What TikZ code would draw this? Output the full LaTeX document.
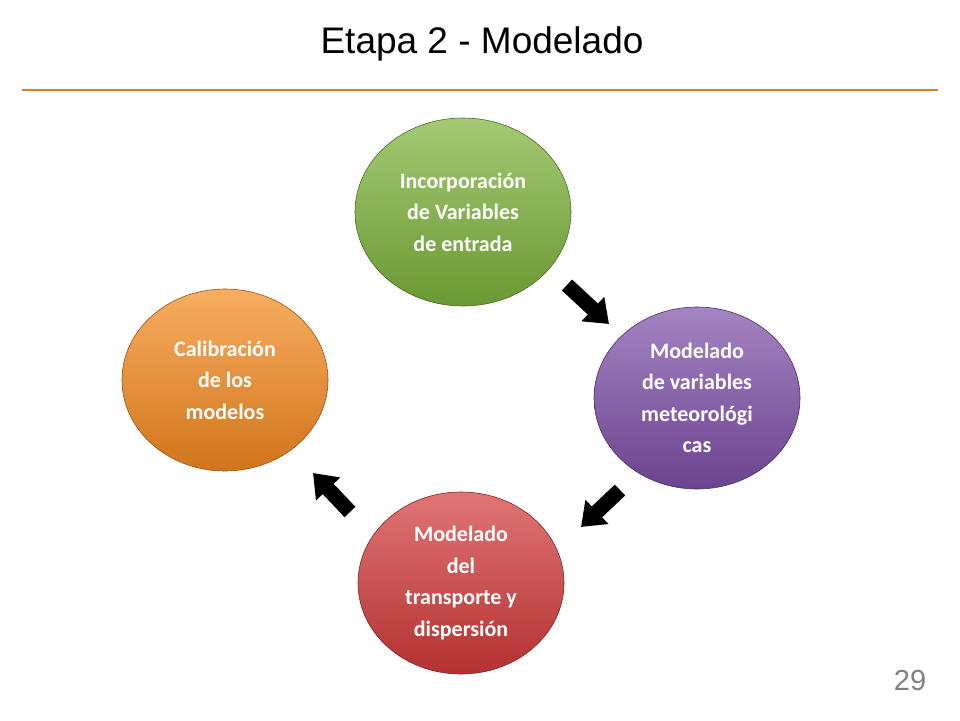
\documentclass[tikz,border=0pt]{standalone}
\usepackage{fontspec}
\setmainfont{Liberation Sans}
\newfontfamily\carl{Carlito}
\usetikzlibrary{shapes.geometric,arrows.meta}
\begin{document}
\begin{tikzpicture}[x=1pt,y=-1pt,
  blob/.style={ellipse,draw=#1!60!black,line width=0.6pt,minimum width=206pt,minimum height=182pt,
    inner sep=0pt,align=center,text=white,font=\carl\bfseries\fontsize{22}{31.5}\selectfont,
    top color=#1!70!white,bottom color=#1!85!black},
  blk/.style={line width=15pt,black,-{Triangle[width=32pt,length=22pt]}}]
\useasboundingbox (0,0) rectangle (960,720);
\definecolor{gr}{HTML}{7DB33A}
\definecolor{pu}{HTML}{7E4FA8}
\definecolor{re}{HTML}{D33A3A}
\definecolor{or}{HTML}{F58A1F}
\node[font=\fontsize{37}{42}\selectfont] (title) at (482,44) {Etapa 2 - Modelado};
\coordinate (l1) at (22,90); \coordinate (l2) at (938,90);
\draw[line width=2pt,color={rgb,255:red,224;green,123;blue,32}] (l1) -- (l2);
\node[blob=gr,minimum width=216pt,minimum height=188pt] (g) at (463,212) {Incorporación\\de Variables\\de entrada};
\node[blob=pu] (p) at (697,398) {Modelado\\de variables\\meteorológi\\cas};
\node[blob=re] (r) at (461,583) {Modelado\\del\\transporte y\\dispersión};
\node[blob=or] (o) at (225,380) {Calibración\\de los\\modelos};
\coordinate (a1s) at (567,285); \coordinate (a1e) at (609,324);
\coordinate (a2s) at (620,490); \coordinate (a2e) at (581,527);
\coordinate (a3s) at (350,512); \coordinate (a3e) at (313,473);
\draw[blk] (a1s) -- (a1e);
\draw[blk] (a2s) -- (a2e);
\draw[blk] (a3s) -- (a3e);
\node[text=gray,font=\fontsize{29}{32}\selectfont] (num) at (910,681) {29};
\end{tikzpicture}
\end{document}
